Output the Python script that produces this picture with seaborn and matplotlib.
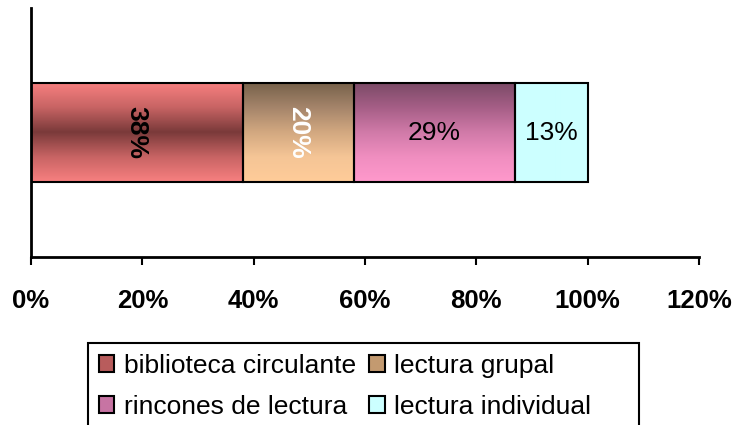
import numpy as np
import pandas as pd
import matplotlib
matplotlib.use("Agg")
import matplotlib.pyplot as plt
import seaborn as sns
from matplotlib.colors import to_rgb
from matplotlib.patches import Patch, Rectangle

# datos del gráfico
categorias = ["biblioteca circulante", "lectura grupal", "rincones de lectura", "lectura individual"]
valores = [38, 20, 29, 13]
ticks_x = [0, 20, 40, 60, 80, 100, 120]

# degradados estilo Excel (arriba -> centro -> abajo)
degradados = [
    ["#F88080", "#C86464", "#7A3A3A", "#C86464", "#F88080"],
    ["#76614A", "#A4846A", "#D2A880", "#F5C596", "#FFCC99"],
    ["#7A4A66", "#A55E86", "#D07AA8", "#F08EC0", "#FF99CC"],
    ["#CCFFFF", "#CCFFFF", "#CCFFFF", "#CCFFFF", "#CCFFFF"],
]
color_leyenda = ["#B85C5C", "#C39A70", "#C774A3", "#CCFFFF"]
estilo_etiqueta = [
    dict(rotation=270, fontweight="bold", color="black"),
    dict(rotation=270, fontweight="bold", color="white"),
    dict(rotation=0, fontweight="normal", color="black"),
    dict(rotation=0, fontweight="normal", color="black"),
]

sns.set_theme(style="white")
plt.rcParams["font.family"] = ["Liberation Sans", "DejaVu Sans"]
plt.rcParams["text.color"] = "black"
plt.rcParams["xtick.color"] = "black"
plt.rcParams["xtick.labelcolor"] = "black"


def gradiente(cols, n=200):
    stops = np.array([to_rgb(c) for c in cols])
    pos = np.linspace(0, 1, len(cols))
    t = np.linspace(0, 1, n)
    arr = np.stack([np.interp(t, pos, stops[:, k]) for k in range(3)], axis=1)
    return arr[:, None, :]


acumulado = np.cumsum(valores)
df = pd.DataFrame({"serie": [""] * len(valores), "cum": acumulado, "valor": valores})

fig = plt.figure(figsize=(7.37, 4.25), dpi=100)
ax = fig.add_axes([31 / 737, 1 - 257 / 425, (699 - 31) / 737, (257 - 8) / 425])

# barras apiladas: se dibujan de mayor a menor acumulado
parches = []
for i in reversed(range(len(valores))):
    sub = df.iloc[[i]]
    sns.barplot(data=sub, x="cum", y="serie", orient="h", width=0.4,
                color="white", edgecolor="black", linewidth=1.5, ax=ax)
    parches.append((i, ax.patches[-1]))

for i, p in parches:
    derecha = p.get_x() + p.get_width()
    izquierda = derecha - valores[i]
    y0, h = p.get_y(), p.get_height()
    ax.imshow(gradiente(degradados[i]), extent=(izquierda, derecha, y0 + h, y0),
              origin="upper", aspect="auto", zorder=2, interpolation="bilinear")
    ax.add_patch(plt.Rectangle((izquierda, y0), valores[i], h, facecolor="none",
                               edgecolor="black", linewidth=1.5, zorder=3))
    ax.text((izquierda + derecha) / 2, y0 + h / 2, f"{valores[i]}%", ha="center",
            va="center", fontsize=19, zorder=4, **estilo_etiqueta[i])
    p.set_visible(False)

ax.set_xlim(0, 120)
ax.set_ylim(0.5, -0.5)
ax.set_xticks(ticks_x)
ax.set_xticklabels([f"{t}%" for t in ticks_x], fontsize=18.5, fontweight="bold")
ax.set_yticks([])
ax.set_xlabel("")
ax.set_ylabel("")
ax.tick_params(axis="x", direction="out", length=6, width=1.5, color="black", pad=17,
               bottom=True)
for lado in ["top", "right"]:
    ax.spines[lado].set_visible(False)
for lado in ["left", "bottom"]:
    ax.spines[lado].set_color("black")
    ax.spines[lado].set_linewidth(2)

# leyenda por filas (matplotlib llena por columnas)
orden = [0, 2, 1, 3]
manejadores = [Patch(facecolor=color_leyenda[k], edgecolor="black", linewidth=1.5) for k in orden]
leg = fig.legend(manejadores, [categorias[k] for k in orden], ncol=2, loc="upper left",
                 bbox_to_anchor=(88 / 737, 1 - 343 / 425), fontsize=19,
                 frameon=False,
                 handlelength=0.6, handleheight=0.6, handletextpad=0.35,
                 columnspacing=0.5, labelspacing=0.65, borderpad=0.4,
                 borderaxespad=0)

# marco de la leyenda, más ancho a la derecha como en Excel
marco = Rectangle((88 / 737, -0.05), (639 - 88) / 737, (1 - 343 / 425) + 0.05,
                  transform=fig.transFigure, facecolor="none", edgecolor="black",
                  linewidth=1.5, zorder=5)
fig.patches.append(marco)

fig.savefig("out.png", dpi=100, facecolor="white")
